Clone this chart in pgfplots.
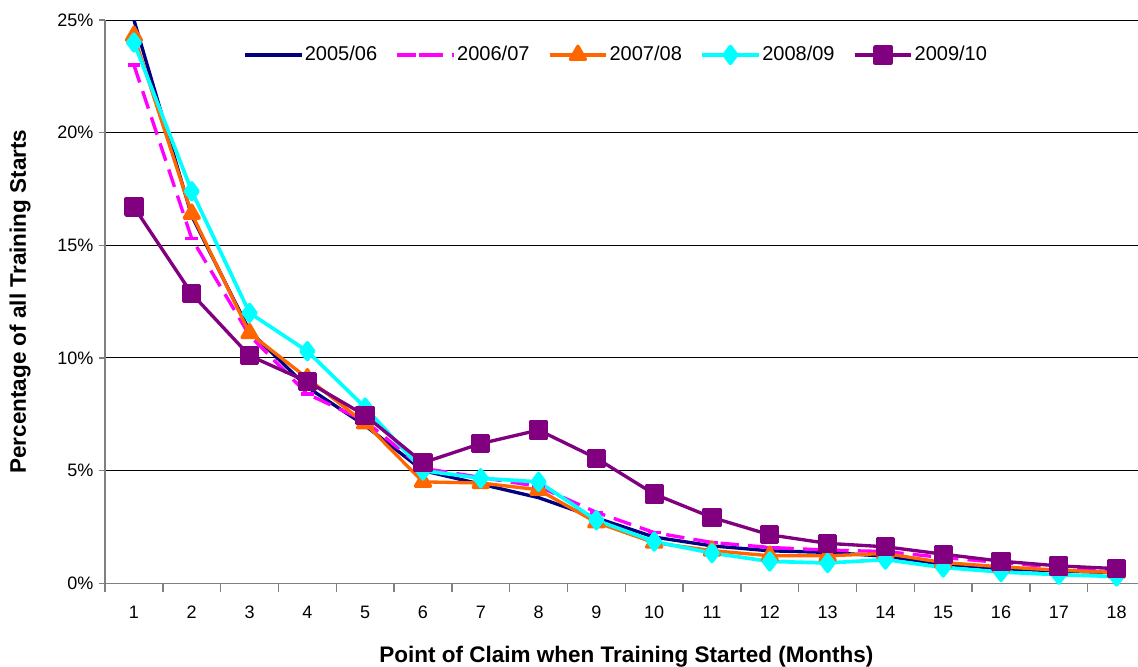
\documentclass[border=0pt]{standalone}
\usepackage{fontspec}
\setmainfont{Liberation Sans}
\usepackage{pgfplots}
\pgfplotsset{compat=1.18}
\definecolor{cNavy}{HTML}{000080}
\definecolor{cMag}{HTML}{FF00FF}
\definecolor{cOrange}{HTML}{FF6600}
\definecolor{cCyan}{HTML}{00FFFF}
\definecolor{cPurple}{HTML}{800080}
\begin{document}
\begin{tikzpicture}
\begin{axis}[
  scale only axis,
  width=624pt, height=337.8pt,
  xmin=0.5, xmax=18.5, ymin=0, ymax=25,
  axis lines=left,
  axis line style={-, draw=gray, line width=0.8pt},
  xtick={1,...,18},
  minor xtick={0.5,1.5,...,18.5},
  major x tick style={draw=none},
  minor x tick style={draw=gray, line width=0.8pt},
  minor tick length=5pt,
  major tick length=3.5pt,
  y tick style={draw=gray, line width=0.8pt},
  tick align=outside,
  ytick={0,5,10,15,20,25},
  yticklabel={\pgfmathprintnumber{\tick}\%},
  /pgf/number format/assume math mode=true,
  ymajorgrids,
  grid style={black, line width=0.6pt},
  tick label style={font=\fontsize{10.8pt}{12pt}\selectfont},
  xticklabel style={yshift=-6.8pt},
  every axis x label/.style={at={(axis description cs:0.501,-0.1297)}, anchor=center},
  every axis y label/.style={at={(axis description cs:-0.0816,0.5)}, rotate=90, anchor=center},
  label style={font=\bfseries\fontsize{13.5pt}{15pt}\selectfont},
  xlabel={Point of Claim when Training Started (Months)},
  ylabel={Percentage of all Training Starts},
  legend style={at={(axis description cs:0.491,0.938)}, anchor=center, draw=none, fill=none,
    font=\fontsize{12pt}{14pt}\selectfont,
    nodes={inner xsep=1pt},
    /tikz/every even column/.append style={column sep=10pt}},
  legend columns=5,
  legend cell align=left,
  legend image code/.code={\draw[mark repeat=2,mark phase=2,#1] plot coordinates {(0pt,0pt) (17pt,0pt) (34pt,0pt)};},
  line join=round,
]
\addplot[cNavy, line width=2pt, mark=none] coordinates {
(1,25.0) (2,16.3) (3,11.2) (4,8.7) (5,7.0) (6,5.0) (7,4.4) (8,3.8) (9,2.9) (10,2.05) (11,1.66) (12,1.44) (13,1.37) (14,1.2) (15,0.85) (16,0.65) (17,0.55) (18,0.47)};
\addlegendentry{2005/06}
\addplot[cMag, line width=2pt, dash pattern=on 11pt off 5.5pt, mark=-, mark size=3.8pt, mark options={solid, line width=2pt}] coordinates {
(1,23.0) (2,15.3) (3,11.0) (4,8.4) (5,7.2) (6,5.1) (7,4.7) (8,4.3) (9,3.15) (10,2.25) (11,1.81) (12,1.59) (13,1.47) (14,1.41) (15,1.14) (16,0.92) (17,0.70) (18,0.58)};
\addlegendentry{2006/07}
\addplot[cOrange, line width=2pt, mark=triangle*, mark size=5.2pt, mark options={solid}] coordinates {
(1,24.3) (2,16.4) (3,11.1) (4,9.1) (5,7.1) (6,4.5) (7,4.45) (8,4.15) (9,2.7) (10,1.8) (11,1.45) (12,1.22) (13,1.22) (14,1.32) (15,0.92) (16,0.73) (17,0.58) (18,0.47)};
\addlegendentry{2007/08}
\addplot[cCyan, line width=2.2pt, mark=diamond*, mark size=5pt, mark options={solid}] coordinates {
(1,24.0) (2,17.4) (3,12.0) (4,10.3) (5,7.8) (6,5.0) (7,4.66) (8,4.5) (9,2.8) (10,1.85) (11,1.34) (12,0.97) (13,0.9) (14,1.05) (15,0.7) (16,0.5) (17,0.38) (18,0.3)};
\addlegendentry{2008/09}
\addplot[cPurple, line width=2pt, mark=square*, mark size=4.8pt, mark options={solid}] coordinates {
(1,16.7) (2,12.85) (3,10.1) (4,8.95) (5,7.45) (6,5.35) (7,6.2) (8,6.8) (9,5.55) (10,3.96) (11,2.92) (12,2.15) (13,1.77) (14,1.62) (15,1.29) (16,0.98) (17,0.77) (18,0.65)};
\addlegendentry{2009/10}
\end{axis}
\pgfresetboundingbox
\path[use as bounding box] ([shift={(-63pt,-49.8pt)}]current axis.south west) rectangle ([shift={(-4.5pt,12pt)}]current axis.north east);
\end{tikzpicture}
\end{document}
